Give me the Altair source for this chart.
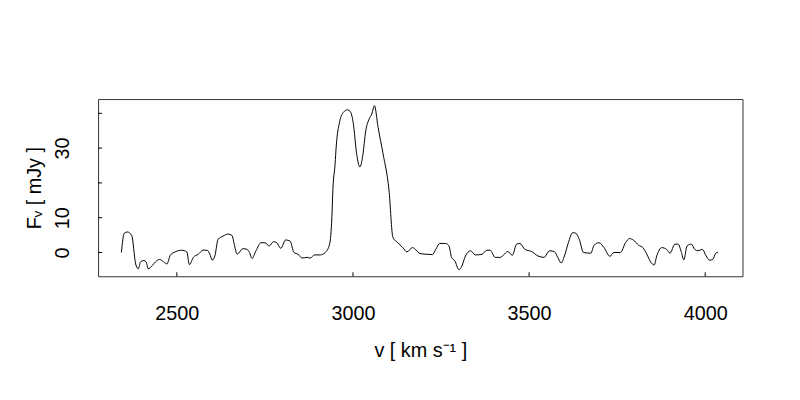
import altair as alt
import pandas as pd

velocity = [2342.7, 2350.3, 2359.5, 2371.9, 2383.1, 2390.4, 2397.2, 2406.5, 2412.9, 2418.5,
            2429.8, 2439.3, 2451.4, 2462.6, 2471.9, 2481.5, 2495.5, 2514.0, 2528.1, 2535.7,
            2546.9, 2561.0, 2575.0, 2587.1, 2593.8, 2600.3, 2607.9, 2617.1, 2631.2, 2645.2,
            2656.5, 2664.0, 2671.3, 2687.4, 2699.4, 2706.2, 2713.5, 2724.7, 2738.8, 2750.0,
            2762.4, 2774.4, 2783.7, 2795.0, 2809.0, 2821.4, 2832.6, 2843.8, 2855.9, 2870.0,
            2879.2, 2890.5, 2907.3, 2921.3, 2933.7, 2940.2, 2943.0, 2949.4, 2952.3, 2961.8,
            2973.0, 2984.3, 2993.5, 3001.1, 3010.4, 3019.7, 3027.3, 3036.5, 3046.1, 3053.4,
            3061.0, 3071.3, 3085.4, 3102.2, 3113.5, 3127.5, 3141.6, 3152.8, 3169.7, 3179.0,
            3190.2, 3207.0, 3225.9, 3235.1, 3246.4, 3263.2, 3272.5, 3280.0, 3289.3, 3300.6,
            3307.3, 3319.4, 3333.4, 3347.5, 3366.3, 3380.3, 3389.6, 3403.7, 3417.7, 3427.0,
            3439.4, 3452.3, 3464.6, 3473.9, 3488.0, 3506.8, 3525.3, 3542.2, 3558.2, 3572.2,
            3581.5, 3591.0, 3600.3, 3611.5, 3623.6, 3633.1, 3642.4, 3654.5, 3675.3, 3684.6,
            3698.6, 3712.7, 3729.5, 3740.8, 3759.6, 3773.6, 3785.7, 3797.0, 3811.0, 3823.1,
            3834.3, 3845.5, 3855.1, 3862.4, 3876.4, 3890.5, 3900.0, 3914.0, 3923.3, 3932.6,
            3939.3, 3948.6, 3960.7, 3970.2, 3979.5, 3991.6, 4002.8, 4012.4, 4021.6, 4029.2,
            4036.5]

flux = [0.0, 5.5, 5.9, 4.9, -3.3, -4.7, -2.7, -2.3, -2.7, -4.7,
        -3.8, -2.7, -2.0, -2.7, -3.3, -0.8, 0.2, 0.65, 0.2, -3.5,
        -1.4, -0.5, 0.7, 0.6, -0.5, -2.2, -1.0, 3.8, 4.7, 5.3,
        4.9, 1.9, -0.5, 1.1, 0.9, 0.0, -1.7, 0.5, 2.8, 2.8,
        1.9, 3.1, 2.8, 1.2, 3.6, 3.3, 0.0, -0.5, -1.6, -1.4,
        -1.6, -0.7, -0.7, 0.0, 2.4, 10.4, 18.0, 25.6, 30.3, 37.4,
        40.3, 41.0, 40.3, 37.0, 28.4, 24.6, 27.5, 35.1, 38.4, 39.8,
        42.2, 36.0, 28.4, 18.0, 4.3, 2.8, 1.4, 0.2, 1.4, 0.7,
        -0.3, -0.5, -0.6, 0.9, 2.6, 2.6, 1.9, -1.4, -2.4, -4.9,
        -4.3, -1.0, 0.5, -0.7, -0.5, 0.65, 0.65, -1.4, -1.4, -0.8,
        0.3, -0.8, 2.4, 2.6, 0.9, 0.3, -1.0, -1.4, 0.5, 0.2,
        -1.4, -3.0, -1.0, 2.8, 5.7, 5.5, 3.8, 0.0, -0.2, 2.1,
        2.8, 1.4, -1.1, 0.0, 0.0, 2.8, 4.0, 3.5, 2.1, 1.4,
        -0.5, -2.8, -3.6, -1.0, 1.4, 0.9, -0.2, 2.4, 2.4, 0.0,
        -2.1, 1.9, 2.4, 0.9, 0.5, 0.9, -1.0, -2.2, -2.0, -0.3,
        0.1]

x_ticks = [2500, 3000, 3500, 4000]
y_ticks = [0, 10, 20, 30, 40]
y_labels = [0, 10, 30]

W, H = 651, 179
FONT = "Liberation Sans"
FS = 20

df = pd.DataFrame({"v": velocity, "F": flux})
xt = pd.DataFrame({"t": x_ticks})
yt = pd.DataFrame({"t": y_ticks})

xscale = alt.Scale(domain=[2276.4, 4105.9], nice=False, zero=False)
yscale = alt.Scale(domain=[-6.83, 44.1], nice=False, zero=False)

line = alt.Chart(df).mark_line(color="black", strokeWidth=1, interpolate="monotone", clip=True).encode(
    x=alt.X("v:Q", scale=xscale,
            axis=alt.Axis(values=x_ticks, format="d", ticks=False, tickSize=0, domain=False, grid=False,
                          labelFontSize=FS, labelFont=FONT, labelColor="black", labelPadding=28,
                          labelBaseline="top",
                          title="v [ km s⁻¹ ]", titleFontSize=FS, titleFont=FONT,
                          titleFontWeight="normal", titleColor="black",
                          titleBaseline="alphabetic", titleY=81)),
    y=alt.Y("F:Q", scale=yscale,
            axis=alt.Axis(values=y_labels, format="d", ticks=False, tickSize=0, domain=False, grid=False,
                          labelFontSize=FS, labelFont=FONT, labelColor="black", labelPadding=30,
                          labelAngle=270, labelAlign="center", labelBaseline="alphabetic",
                          title="Fᵥ [ mJy ]", titleFontSize=FS, titleFont=FONT,
                          titleFontWeight="normal", titleColor="black",
                          titleAngle=270, titleBaseline="alphabetic", titleX=-58,
                          titleAlign="center", titleY=H / 2)),
)

xtick_marks = alt.Chart(xt).mark_rule(color="black", strokeWidth=1).encode(
    x=alt.X("t:Q", scale=xscale),
    y=alt.value(H),
    y2=alt.value(H - 4),
)

ytick_marks = alt.Chart(yt).mark_rule(color="black", strokeWidth=1).encode(
    y=alt.Y("t:Q", scale=yscale),
    x=alt.value(0),
    x2=alt.value(4),
)

chart = alt.layer(line, xtick_marks, ytick_marks).properties(
    width=W, height=H,
    autosize=alt.AutoSizeParams(type="none"),
    padding={"left": 91, "top": 90, "right": 50, "bottom": 122},
    background="white",
).configure_view(stroke="#333333", strokeWidth=1)

chart.save("out.html", embed_options={"renderer": "svg", "actions": False})
